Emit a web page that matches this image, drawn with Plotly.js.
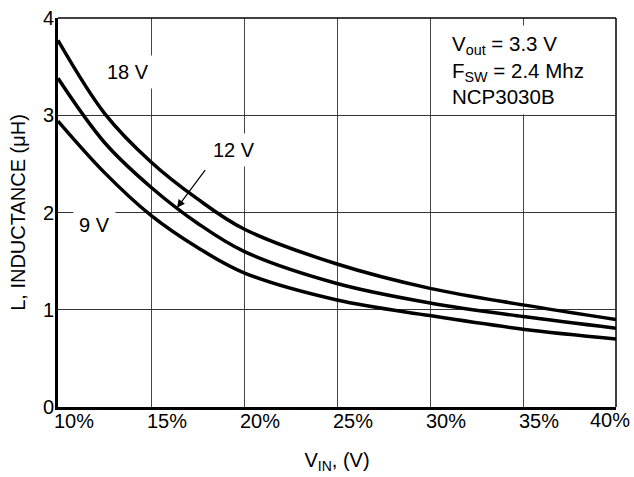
<!DOCTYPE html>
<html>
<head>
<meta charset="utf-8">
<script src="https://cdn.plot.ly/plotly-3.0.1.min.js"></script>
<style>html,body{margin:0;padding:0;background:#fff;}#chart{width:634px;height:477px;}</style>
</head>
<body>
<div id="chart"></div>
<script>
// Duty (V_IN ratio) in percent
const vinPct = [10, 12.5, 15, 17.5, 20, 25, 30, 35, 40];
// Inductance (uH) for each input voltage
const l9V  = [2.94, 2.41, 1.97, 1.64, 1.38, 1.10, 0.94, 0.80, 0.70];
const l12V = [3.38, 2.72, 2.26, 1.89, 1.60, 1.27, 1.07, 0.93, 0.81];
const l18V = [3.77, 3.02, 2.52, 2.14, 1.83, 1.47, 1.22, 1.05, 0.90];
const seriesNames = ['9 V', '12 V', '18 V'];
const xTickVals = [10, 15, 20, 25, 30, 35];
const xTickText = ['10%', '15%', '20%', '25%', '30%', '35%'];
const lastXTick = '40%';
const yTickVals = [0, 1, 2, 3, 4];

const FONT = 'Liberation Sans, Arial, Helvetica, sans-serif';
const FS = 20;
const lineStyle = {color: '#000', width: 3.5, shape: 'spline', smoothing: 1};

const traces = [l9V, l12V, l18V].map((ys, i) => ({
  x: vinPct, y: ys, type: 'scatter', mode: 'lines', name: seriesNames[i],
  line: lineStyle, hoverinfo: 'skip'
}));

const layout = {
  width: 634, height: 477,
  margin: {l: 58, r: 18, t: 18, b: 70, pad: 0},
  paper_bgcolor: '#fff', plot_bgcolor: '#fff',
  showlegend: false,
  font: {family: FONT, size: FS, color: '#000'},
  xaxis: {
    range: [10, 40], tickvals: xTickVals, ticktext: xTickText,
    ticks: '', ticklabelshift: 16, ticklabelstandoff: -6,
    showgrid: true, gridcolor: '#444', gridwidth: 1,
    showline: true, linecolor: '#000', linewidth: 3,
    zeroline: false, automargin: false, fixedrange: true,
    tickfont: {family: FONT, size: FS, color: '#000'},
    title: {text: 'V<sub>IN</sub>, (V)', font: {family: FONT, size: FS, color: '#000'}, standoff: 22}
  },
  yaxis: {
    range: [0, 4], tickvals: yTickVals, ticks: '', ticklabelstandoff: -3,
    showgrid: true, gridcolor: '#333', gridwidth: 1,
    showline: true, linecolor: '#000', linewidth: 3,
    zeroline: false, automargin: false, fixedrange: true,
    tickfont: {family: FONT, size: FS, color: '#000'},
    title: {text: 'L, INDUCTANCE (\u03BCH)', font: {family: FONT, size: FS, color: '#000'}, standoff: 12}
  },
  shapes: [
    {type: 'line', xref: 'paper', yref: 'paper', x0: 0, x1: 1, y0: 1, y1: 1, line: {color: '#000', width: 1.5}},
    {type: 'line', xref: 'paper', yref: 'paper', x0: 1, x1: 1, y0: 0, y1: 1, line: {color: '#000', width: 1.5}}
  ],
  annotations: [
    {x: 13.76, y: 3.44, text: '18 V', showarrow: false, bgcolor: '#fff', borderpad: 5, font: {family: FONT, size: FS}},
    {x: 11.94, y: 1.87, text: '9 V', showarrow: false, bgcolor: '#fff', borderpad: 5, font: {family: FONT, size: FS}},
    {x: 19.46, y: 2.64, text: '12 V', showarrow: false, bgcolor: '#fff', borderpad: 5, font: {family: FONT, size: FS}},
    {x: 16.4, y: 2.05, text: ' ', showarrow: true, ax: 30, ay: -40, arrowhead: 2, arrowsize: 1.3, arrowwidth: 1.2, arrowcolor: '#000', font: {size: 2}},
    {xref: 'paper', yref: 'paper', x: 0.693, y: 0.982, xanchor: 'left', yanchor: 'top', align: 'left',
     text: 'V<sub>out</sub> = 3.3 V<br>F<sub>SW</sub> = 2.4 Mhz<br>NCP3030B',
     showarrow: false, bgcolor: '#fff', borderpad: 6, width: 152, font: {family: FONT, size: 20.5}},
    {xref: 'paper', yref: 'paper', x: 1, y: 0, xanchor: 'right', yanchor: 'middle', xshift: 16, yshift: -13,
     text: lastXTick, showarrow: false, font: {family: FONT, size: FS}}
  ]
};

Plotly.newPlot('chart', traces, layout, {displayModeBar: false, staticPlot: true});
</script>
</body>
</html>
